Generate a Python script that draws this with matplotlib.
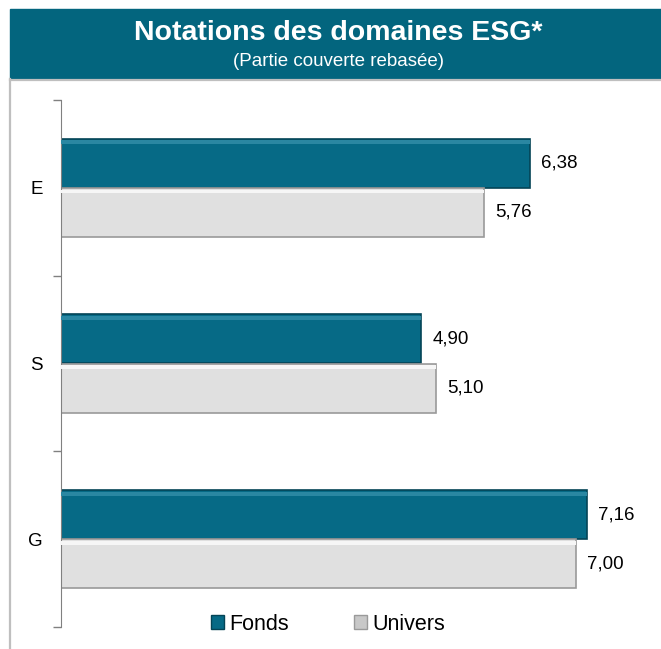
import matplotlib.pyplot as plt
from matplotlib.patches import Rectangle
import numpy as np

plt.rcParams['font.family'] = ['Liberation Sans', 'DejaVu Sans']

categories = ['E', 'S', 'G']
fonds = [6.38, 4.90, 7.16]
univers = [5.76, 5.10, 7.00]
series_names = ['Fonds', 'Univers']

W, H = 661, 649
fig = plt.figure(figsize=(W / 100, H / 100), dpi=100)

# header band + frame
fig.patches.append(Rectangle((10 / W, 1 - 78 / H), 651 / W, 69 / H,
                             transform=fig.transFigure, color='#03657E', zorder=0))
fig.add_artist(plt.Line2D([10 / W, 1], [1 - 79.5 / H] * 2, color='#BFBFBF', lw=1.6))
fig.add_artist(plt.Line2D([10 / W] * 2, [1 - 79 / H, 0], color='#BFBFBF', lw=1.6))
fig.text(0.5 + 8 / W, 1 - 33 / H, 'Notations des domaines ESG*', color='white',
         fontsize=20.5, fontweight='bold', ha='center', va='center')
fig.text(0.5 + 8 / W, 1 - 62 / H, '(Partie couverte rebasée)', color='white',
         fontsize=13.5, ha='center', va='center')

# axes: x from px 61, 73.5 px per unit; y from px 100 to 627
ax = fig.add_axes([61 / W, 1 - 627 / H, 8 * 73.5 / W, 527 / H])
ax.set_xlim(0, 8)
ax.set_ylim(len(categories), 0)

y = np.arange(len(categories)) + 0.5
h = 0.28
teal, teal_dark, teal_light = '#066A86', '#044456', '#2A87A2'
grey, grey_dark, grey_light = '#E0E0E0', '#9A9A9A', '#F6F6F6'

for vals, off, fc, dark, light in [(fonds, -h / 2, teal, teal_dark, teal_light),
                                    (univers, h / 2, grey, grey_dark, grey_light)]:
    ax.barh(y + off, vals, height=h, color=fc, edgecolor=dark, linewidth=1.2, zorder=2)
    # bevel highlight on top edge
    ax.barh(y + off - h / 2 + 0.01, vals, height=0.022, color=light,
            linewidth=0, zorder=3, align='edge')
    for yy, v in zip(y + off, vals):
        ax.text(v + 0.15, yy, f'{v:.2f}'.replace('.', ','), va='center', ha='left',
                fontsize=13.5, color='black')

ax.set_yticks(np.arange(len(categories) + 1))
ax.set_yticklabels([])
ax.set_yticks(y, minor=True)
ax.set_yticklabels(categories, minor=True, fontsize=13.5)
ax.tick_params(axis='y', which='minor', length=0, pad=13)
ax.tick_params(axis='y', which='major', length=6, color='#808080', width=1)
ax.set_xticks([])
for s in ['top', 'right', 'bottom']:
    ax.spines[s].set_visible(False)
ax.spines['left'].set_color('#808080')

# legend
handles = [Rectangle((0, 0), 1, 1, facecolor=teal, edgecolor=teal_dark),
           Rectangle((0, 0), 1, 1, facecolor='#C8C8C8', edgecolor=grey_dark)]
fig.legend(handles, series_names, loc='center', bbox_to_anchor=(328 / W, 1 - 624 / H),
           ncol=2, frameon=False, fontsize=15.5, handlelength=0.6, handleheight=0.6,
           handletextpad=0.25, columnspacing=3.0)

fig.savefig('out.png', dpi=100)
